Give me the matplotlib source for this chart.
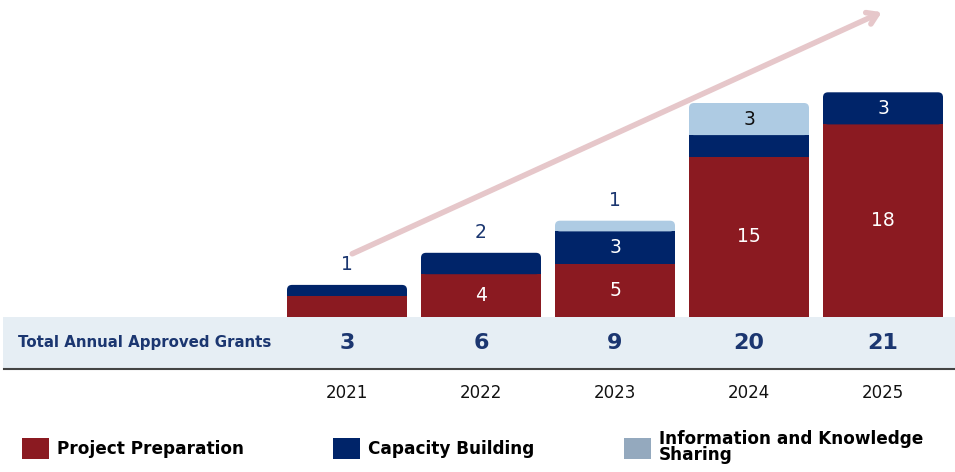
import matplotlib.pyplot as plt
import numpy as np
from matplotlib.patches import FancyBboxPatch, Rectangle, Patch
from matplotlib.transforms import blended_transform_factory

years = ['2021', '2022', '2023', '2024', '2025']
project_prep = [2, 4, 5, 15, 18]
capacity = [1, 2, 3, 2, 3]
info_sharing = [0, 0, 1, 3, 0]
totals = [3, 6, 9, 20, 21]

series_names = ['Project Preparation', 'Capacity Building', 'Information and Knowledge\nSharing']
bar_colors = ['#8B1A21', '#002469', '#AECBE3']
legend_colors = ['#8B1A21', '#002469', '#94A9BE']
navy = '#1B3670'

W, H = 955, 472
fig = plt.figure(figsize=(W / 100, H / 100), dpi=100)
ax = fig.add_axes([0, (H - 317) / H, 1, 317 / H])
px_x = 134.0   # pixels per x unit
px_y = 10.7    # pixels per value unit
ax.set_xlim(-347 / px_x, (W - 347) / px_x)
ax.set_ylim(0, 317 / px_y)
ax.axis('off')

x = np.arange(len(years))
width = 120 / px_x
stack = np.array([project_prep, capacity, info_sharing])

# band behind the totals
fig.patches.append(Rectangle((3 / W, (H - 368) / H), (W - 3) / W, 51 / H,
                             transform=fig.transFigure, facecolor='#E6EEF4',
                             edgecolor='none', zorder=-1))
fig.add_artist(plt.Line2D([4 / W, 1], [(H - 369) / H] * 2, color='#444444', lw=1.5))

radius = 5 / px_x
for i in range(len(years)):
    vals = stack[:, i]
    top_idx = max(k for k in range(3) if vals[k] > 0)
    bottom = 0
    for k in range(3):
        v = vals[k]
        if v == 0:
            continue
        if k == top_idx:
            patch = FancyBboxPatch((x[i] - width / 2, bottom), width, v,
                                   boxstyle=f'round,pad=0,rounding_size={radius}',
                                   mutation_aspect=px_x / px_y,
                                   facecolor=bar_colors[k], edgecolor='none', zorder=2)
            ax.add_patch(patch)
            ax.bar(x[i], v / 2, width, bottom=bottom, color=bar_colors[k], linewidth=0, zorder=2)
        else:
            ax.bar(x[i], v, width, bottom=bottom, color=bar_colors[k], linewidth=0, zorder=2)
        # value labels
        if v >= 3:
            col = '#111111' if k == 2 else 'white'
            ax.text(x[i], bottom + v / 2, str(v), ha='center', va='center',
                    color=col, fontsize=13.5, zorder=3)
        elif k == top_idx:
            ax.annotate(str(v), (x[i], bottom + v), xytext=(0, 8), textcoords='offset points',
                        ha='center', va='bottom', color=navy, fontsize=13.5, zorder=3)
        bottom += v

# growth arrow
ax.annotate('', xy=(4.01, 28.6), xytext=(0.02, 5.8),
            arrowprops=dict(arrowstyle='->,head_length=0.7,head_width=0.45', lw=4,
                            color='#E6C7CA', capstyle='round', joinstyle='round'),
            zorder=1)

tr = blended_transform_factory(ax.transData, fig.transFigure)
fig.text(18 / W, (H - 343) / H, 'Total Annual Approved Grants', ha='left', va='center',
         fontsize=10.8, fontweight='bold', color=navy)
for i in range(len(years)):
    fig.text(x[i], (H - 343) / H, str(totals[i]), transform=tr, ha='center', va='center',
             fontsize=16, fontweight='bold', color=navy)
    fig.text(x[i], (H - 393) / H, years[i], transform=tr, ha='center', va='center',
             fontsize=12, color='#111111')

handles = [Patch(facecolor=c, edgecolor='none') for c in legend_colors]
leg = fig.legend(handles, series_names, ncol=3, loc='center left',
                 bbox_to_anchor=(15 / W, (H - 447) / H), frameon=False,
                 prop={'weight': 'bold', 'size': 12.2},
                 handlelength=1.6, handleheight=1.6, handletextpad=0.45,
                 columnspacing=5.3, borderaxespad=0)
leg.get_texts()[2].set_linespacing(0.85)

fig.savefig('out.png', dpi=100)
